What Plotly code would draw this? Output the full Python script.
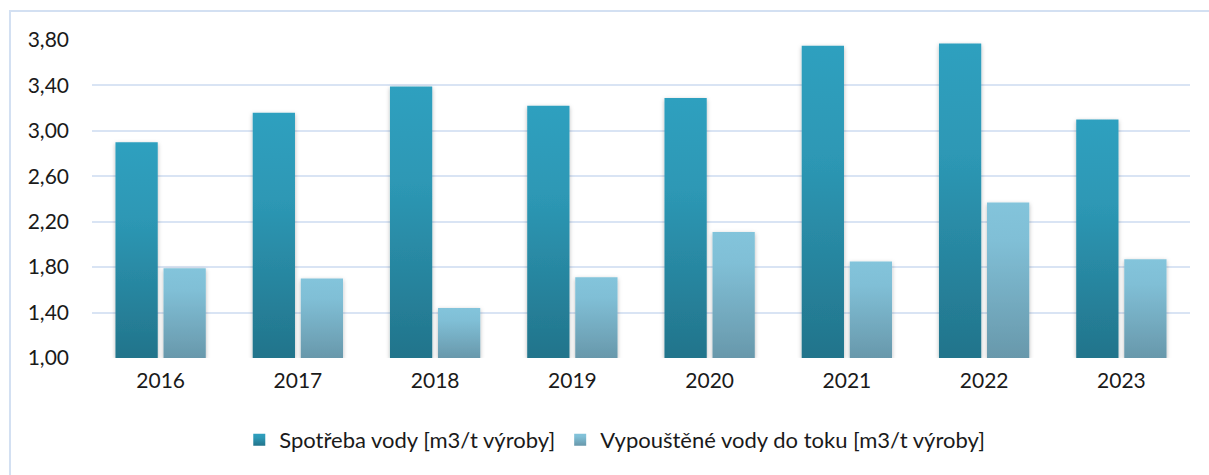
import plotly.graph_objects as go

years = ["2016", "2017", "2018", "2019", "2020", "2021", "2022", "2023"]
spotreba = [2.90, 3.16, 3.39, 3.22, 3.29, 3.75, 3.77, 3.10]
vypoustene = [1.79, 1.70, 1.44, 1.71, 2.11, 1.85, 2.37, 1.87]
series_names = ["Spotřeba vody [m3/t výroby]", "Vypouštěné vody do toku [m3/t výroby]"]
tick_vals = [1.0, 1.4, 1.8, 2.2, 2.6, 3.0, 3.4, 3.8]

FONT = "Lato, 'Noto Sans', sans-serif"

fig = go.Figure()
fig.add_trace(go.Bar(x=years, y=[v - 1.0 for v in spotreba], base=1.0, name=series_names[0],
                     marker=dict(color="#2A8DA8", line=dict(width=0)), hoverinfo="skip"))
fig.add_trace(go.Bar(x=years, y=[v - 1.0 for v in vypoustene], base=1.0, name=series_names[1],
                     marker=dict(color="#78B2C8", line=dict(width=0)), hoverinfo="skip"))

fig.update_layout(
    width=1209, height=475,
    margin=dict(l=92, r=19, t=40, b=117),
    paper_bgcolor="white", plot_bgcolor="white",
    separators=", ",
    barmode="group", bargap=0.3, bargroupgap=0.12,
    font=dict(family=FONT, size=21, color="#1a1a1a"),
    showlegend=True,
    legend=dict(orientation="h", xref="container", yref="container", x=0.5085, xanchor="center",
                y=0.074, yanchor="middle", font=dict(size=22, color="#1a1a1a"),
                itemwidth=30, traceorder="normal"),
    xaxis=dict(showgrid=False, zeroline=False, showline=False, ticks="", tickfont=dict(size=21),
               ticklabelstandoff=8),
    yaxis=dict(range=[1.0, 3.8], tickvals=tick_vals, tickformat=".2f", showgrid=True,
               gridcolor="#D9E4F4", gridwidth=2, zeroline=False, showline=False, ticks="",
               ticklabelstandoff=22, tickfont=dict(size=21)),
    shapes=[dict(type="rect", xref="paper", yref="paper", x0=-0.0747, x1=1.03, y0=-0.6, y1=1.0912,
                 line=dict(color="#D3E0F2", width=2), fillcolor="rgba(0,0,0,0)", layer="below")],
)

post = """
(function(){
  document.body.style.margin = '0';
  document.body.style.padding = '0';
  var gd = document.getElementsByClassName('plotly-graph-div')[0];
  function apply(){
    var svgs = gd.querySelectorAll('svg.main-svg');
    var svg = svgs[0];
    var defs = svg.querySelector('defs');
    if (!defs) { defs = document.createElementNS('http://www.w3.org/2000/svg','defs'); svg.insertBefore(defs, svg.firstChild); }
    if (!document.getElementById('gradA')) {
      defs.insertAdjacentHTML('beforeend',
        '<linearGradient id="gradA" x1="0" y1="0" x2="0" y2="1"><stop offset="0" stop-color="#2FA0BF"/><stop offset="0.35" stop-color="#2D98B5"/><stop offset="1" stop-color="#22748B"/></linearGradient>' +
        '<linearGradient id="gradB" x1="0" y1="0" x2="0" y2="1"><stop offset="0" stop-color="#83C4DB"/><stop offset="0.25" stop-color="#80BFD6"/><stop offset="1" stop-color="#6898AB"/></linearGradient>' +
        '<filter id="shadowF" x="-30%" y="-5%" width="160%" height="115%"><feDropShadow dx="0" dy="1.5" stdDeviation="2" flood-color="#000" flood-opacity="0.28"/></filter>');
    }
    var traces = gd.querySelectorAll('.barlayer .trace');
    traces.forEach(function(t, i){
      var g = i === 0 ? 'url(#gradA)' : 'url(#gradB)';
      t.querySelectorAll('.point path').forEach(function(p){ p.style.fill = g; p.setAttribute('filter','url(#shadowF)'); });
    });
    var legs = gd.querySelectorAll('.legend .traces');
    legs.forEach(function(t, i){
      var g = i === 0 ? 'url(#gradA)' : 'url(#gradB)';
      t.querySelectorAll('.legendpoints path').forEach(function(p){ p.style.fill = g; });
    });
  }
  apply();
  gd.on && gd.on('plotly_afterplot', apply);
})();
"""

fig.write_html("out.html", post_script=post, config={"displayModeBar": False})
